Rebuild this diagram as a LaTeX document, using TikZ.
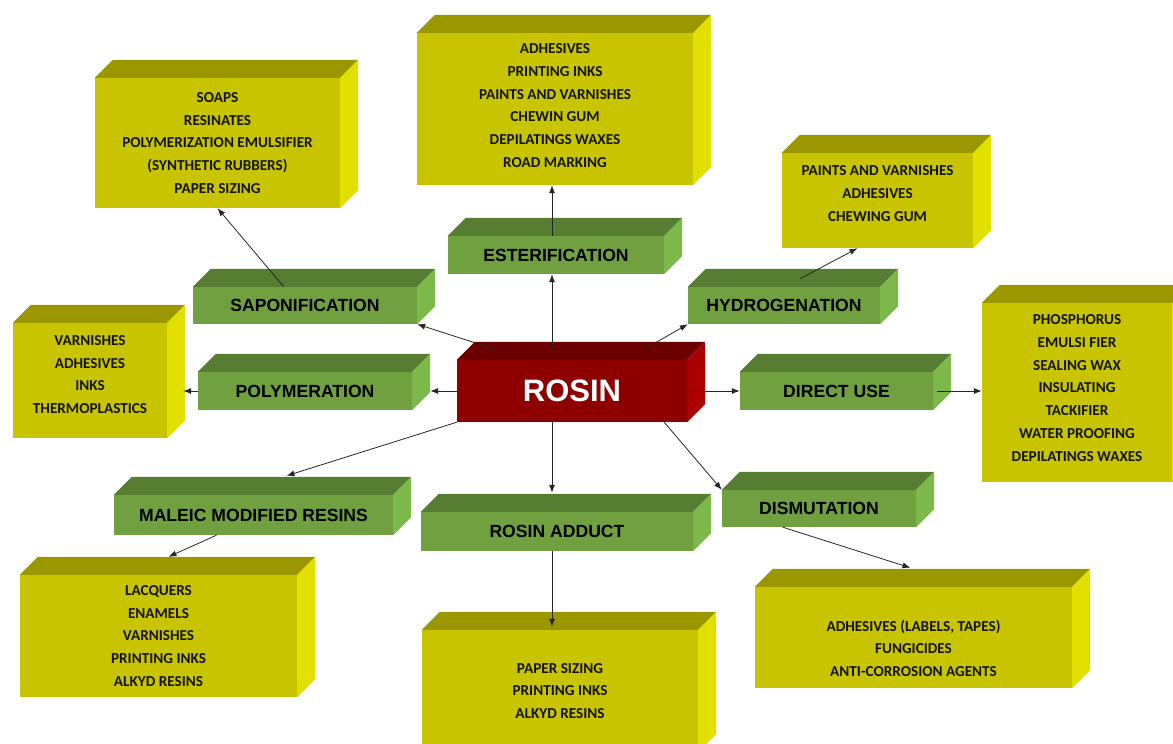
\documentclass[tikz,border=0pt]{standalone}
\usepackage{fontspec}
\newfontfamily\prodfont{Carlito}
\newfontfamily\procfont{Liberation Sans}
\usetikzlibrary{arrows.meta}
\definecolor{yFront}{HTML}{C8C400}
\definecolor{yTop}{HTML}{9A9700}
\definecolor{ySide}{HTML}{E2E000}
\definecolor{gFront}{HTML}{70A040}
\definecolor{gTop}{HTML}{577D33}
\definecolor{gSide}{HTML}{7DB84A}
\definecolor{rFront}{HTML}{8E0000}
\definecolor{rTop}{HTML}{6C0000}
\definecolor{rSide}{HTML}{AA0000}
\newcommand{\boxdepth}{18}

\tikzset{
  proc/.style={rectangle, fill=gFront, inner sep=0pt,
    font=\procfont\bfseries\fontsize{17.6}{20}\selectfont},
  prod/.style={rectangle, fill=yFront, inner sep=0pt, align=center, text=black!92,
    font=\prodfont\bfseries\fontsize{15.2}{22.7}\selectfont},
  core/.style={rectangle, fill=rFront, inner sep=0pt, text=white,
    font=\procfont\bfseries\fontsize{31}{36}\selectfont},
  arr/.style={-{Latex[length=8pt,width=6pt]}, line width=0.8pt, black!85}
}

\begin{document}
\begin{tikzpicture}[x=1pt, y=-1pt]
  \clip (0,0) rectangle (1173,744);

  \node [core, minimum width=230, minimum height=62] (rosin) at (572,391) {ROSIN};

  \node [proc, minimum width=224, minimum height=37] (sapo)   at (305,305.5) {SAPONIFICATION};
  \node [proc, minimum width=214, minimum height=38] (poly)   at (305,391)   {POLYMERATION};
  \node [proc, minimum width=216, minimum height=38] (ester)  at (556,255)   {ESTERIFICATION};
  \node [proc, minimum width=192, minimum height=37] (hydro)  at (784,305.5) {HYDROGENATION};
  \node [proc, minimum width=193, minimum height=38] (direct) at (836.5,391) {DIRECT USE};
  \node [proc, minimum width=279, minimum height=40] (maleic) at (253.5,515) {MALEIC MODIFIED RESINS};
  \node [proc, minimum width=272, minimum height=39] (adduct) at (557,531.5) {ROSIN ADDUCT};
  \node [proc, minimum width=194, minimum height=37] (dismu)  at (819,508.5) {DISMUTATION};

  \node [prod, minimum width=245, minimum height=130] (sapoProd) at (217.5,143)
    {SOAPS\\RESINATES\\POLYMERIZATION EMULSIFIER\\(SYNTHETIC RUBBERS)\\PAPER SIZING};
  \node [prod, minimum width=276, minimum height=152] (esterProd) at (555,109)
    {ADHESIVES\\PRINTING INKS\\PAINTS AND VARNISHES\\CHEWIN GUM\\DEPILATINGS WAXES\\ROAD MARKING\rule[-7pt]{0pt}{0pt}};
  \node [prod, minimum width=191, minimum height=95] (hydroProd) at (877.5,200.5)
    {PAINTS AND VARNISHES\\ADHESIVES\\CHEWING GUM\rule[-14pt]{0pt}{0pt}};
  \node [prod, minimum width=190, minimum height=179] (directProd) at (1077,392.5)
    {PHOSPHORUS\\EMULSI FIER\\SEALING WAX\\INSULATING\\TACKIFIER\\WATER PROOFING\\DEPILATINGS WAXES\rule[-9pt]{0pt}{0pt}};
  \node [prod, minimum width=154, minimum height=115] (polyProd) at (90,380.5)
    {VARNISHES\\ADHESIVES\\INKS\\THERMOPLASTICS\rule[-12pt]{0pt}{0pt}};
  \node [prod, minimum width=277, minimum height=122] (maleicProd) at (158.5,636)
    {LACQUERS\\ENAMELS\\VARNISHES\\PRINTING INKS\\ALKYD RESINS};
  \node [prod, minimum width=276, minimum height=122] (adductProd) at (560,691)
    {PAPER SIZING\\PRINTING INKS\\ALKYD RESINS};
  \node [prod, minimum width=317, minimum height=101] (dismuProd) at (913.5,637.5)
    {\rule{0pt}{33pt}ADHESIVES (LABELS, TAPES)\\FUNGICIDES\\ANTI-CORROSION AGENTS};

  \foreach \n/\tc/\sc in {rosin/rTop/rSide, sapo/gTop/gSide, poly/gTop/gSide, ester/gTop/gSide,
      hydro/gTop/gSide, direct/gTop/gSide, maleic/gTop/gSide, adduct/gTop/gSide, dismu/gTop/gSide,
      sapoProd/yTop/ySide, esterProd/yTop/ySide, hydroProd/yTop/ySide, directProd/yTop/ySide,
      polyProd/yTop/ySide, maleicProd/yTop/ySide, adductProd/yTop/ySide, dismuProd/yTop/ySide} {
    \fill [\tc] (\n.north west) -- ++(\boxdepth,-\boxdepth)
      -- ([shift={(\boxdepth,-\boxdepth)}]\n.north east) -- (\n.north east) -- cycle;
    \fill [\sc] (\n.north east) -- ++(\boxdepth,-\boxdepth)
      -- ([shift={(\boxdepth,-\boxdepth)}]\n.south east) -- (\n.south east) -- cycle;
  }

  \draw [arr] ([shift={(40,-10)}]rosin.north west) -- (sapo.south east);
  \draw [arr] ([shift={(91,0)}]sapo.north west) -- (sapoProd.south);
  \draw [arr] ([shift={(-20,-10)}]rosin.north) -- ([shift={(-4,0)}]ester.south);
  \draw [arr] ([shift={(-4,0)}]ester.north) -- ([shift={(-3,0)}]esterProd.south);
  \draw [arr] ([shift={(-44,-10)}]rosin.north east) -- (hydro.south west);
  \draw [arr] ([shift={(16,-8)}]hydro.north) -- ([shift={(-20,0)}]hydroProd.south);
  \draw [arr] (rosin.west) -- ([shift={(18,0)}]poly.east);
  \draw [arr] (poly.west) -- ([shift={(16,0)}]poly.west -| polyProd.east);
  \draw [arr] (rosin.east) -- (direct.west);
  \draw [arr] ([shift={(4,0)}]direct.east) -- (direct.east -| directProd.west);
  \draw [arr] (rosin.south west) -- ([shift={(33,-19)}]maleic.north);
  \draw [arr] ([shift={(-37,0)}]maleic.south) -- ([shift={(10,-18)}]maleicProd.north);
  \draw [arr] ([shift={(-20,0)}]rosin.south) -- ([shift={(-5,-19)}]adduct.north);
  \draw [arr] ([shift={(-5,0)}]adduct.south) -- ([shift={(-8,-3)}]adductProd.north);
  \draw [arr] ([shift={(-23,0)}]rosin.south east) -- (dismu.north west);
  \draw [arr] ([shift={(61,0)}]dismu.south west) -- ([shift={(-3,-19)}]dismuProd.north);
\end{tikzpicture}
\end{document}
